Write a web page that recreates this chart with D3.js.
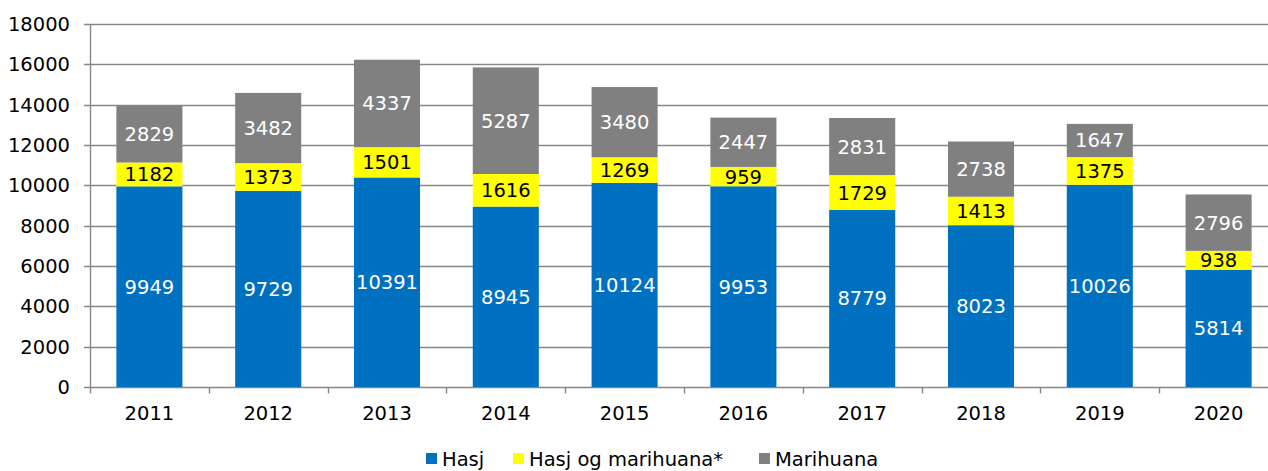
<!DOCTYPE html>
<html>
<head>
<meta charset="utf-8">
<script src="https://cdn.jsdelivr.net/npm/d3@7"></script>
<style>
  body { margin: 0; background: #fff; overflow: hidden; }
  text { font-family: "DejaVu Sans", Verdana, sans-serif; }
</style>
</head>
<body>
<div id="chart"></div>
<script>
// data
const years = ["2011", "2012", "2013", "2014", "2015", "2016", "2017", "2018", "2019", "2020"];
const hasj = [9949, 9729, 10391, 8945, 10124, 9953, 8779, 8023, 10026, 5814];
const hasjOgMarihuana = [1182, 1373, 1501, 1616, 1269, 959, 1729, 1413, 1375, 938];
const marihuana = [2829, 3482, 4337, 5287, 3480, 2447, 2831, 2738, 1647, 2796];
const seriesNames = ["Hasj", "Hasj og marihuana*", "Marihuana"];
const yTicks = [0, 2000, 4000, 6000, 8000, 10000, 12000, 14000, 16000, 18000];

const width = 1268;
const height = 471;
// plot area runs a little past the right edge of the picture
const margin = { top: 24, right: -10, bottom: 84, left: 90 };

const colors = ["#0070C0", "#FFFF00", "#808080"];
const labelColors = ["#fff", "#000", "#fff"];

const svg = d3.select("#chart")
  .append("svg")
    .attr("width", width)
    .attr("height", height);

const x = d3.scaleBand()
  .domain(years)
  .range([margin.left, width - margin.right])
  .paddingInner(0.444)
  .paddingOuter(0.222);

const y = d3.scaleLinear()
  .domain([0, 18000])
  .range([height - margin.bottom, margin.top]);

// build stacked table
const table = years.map((yr, i) => ({
  year: yr,
  [seriesNames[0]]: hasj[i],
  [seriesNames[1]]: hasjOgMarihuana[i],
  [seriesNames[2]]: marihuana[i]
}));
const stacked = d3.stack().keys(seriesNames)(table);

// gridlines
svg.append("g")
  .selectAll("line")
  .data(yTicks)
  .join("line")
    .attr("x1", margin.left - 6)
    .attr("x2", width)
    .attr("y1", d => Math.round(y(d)) + 0.5)
    .attr("y2", d => Math.round(y(d)) + 0.5)
    .attr("stroke", "#878787")
    .attr("stroke-width", 1.4);

// y labels
svg.append("g")
  .selectAll("text")
  .data(yTicks)
  .join("text")
    .attr("x", margin.left - 20)
    .attr("y", d => y(d))
    .attr("dy", "0.36em")
    .attr("text-anchor", "end")
    .attr("font-size", 19.5)
    .attr("fill", "#000")
    .text(d => d);

// bars
const groups = svg.append("g")
  .selectAll("g")
  .data(stacked)
  .join("g")
    .attr("fill", (d, i) => colors[i]);

groups.selectAll("rect")
  .data(d => d)
  .join("rect")
    .attr("x", d => x(d.data.year))
    .attr("width", x.bandwidth())
    .attr("y", d => y(d[1]))
    .attr("height", d => y(d[0]) - y(d[1]));

// value labels
stacked.forEach((s, si) => {
  svg.append("g")
    .selectAll("text")
    .data(s)
    .join("text")
      .attr("x", d => x(d.data.year) + x.bandwidth() / 2)
      .attr("y", d => (y(d[0]) + y(d[1])) / 2)
      .attr("dy", "0.36em")
      .attr("text-anchor", "middle")
      .attr("font-size", 19.5)
      .attr("fill", labelColors[si])
      .text(d => d[1] - d[0]);
});

// y axis line
const y0 = Math.round(y(0)) + 0.5;
svg.append("line")
  .attr("x1", margin.left + 0.5).attr("x2", margin.left + 0.5)
  .attr("y1", margin.top).attr("y2", y0 + 6)
  .attr("stroke", "#878787").attr("stroke-width", 1.4);

// category ticks between bands
const step = x.step();
svg.append("g")
  .selectAll("line")
  .data(years.slice(1))
  .join("line")
    .attr("x1", d => Math.round(x(d) - step * x.paddingInner() / 2) + 0.5)
    .attr("x2", d => Math.round(x(d) - step * x.paddingInner() / 2) + 0.5)
    .attr("y1", y0)
    .attr("y2", y0 + 6)
    .attr("stroke", "#878787")
    .attr("stroke-width", 1.4);

// x labels
svg.append("g")
  .selectAll("text")
  .data(years)
  .join("text")
    .attr("x", d => x(d) + x.bandwidth() / 2)
    .attr("y", 413)
    .attr("dy", "0.36em")
    .attr("text-anchor", "middle")
    .attr("font-size", 19.5)
    .text(d => d);

// legend
const legendX = [426, 513, 759];
const legend = svg.append("g")
  .selectAll("g")
  .data(seriesNames)
  .join("g")
    .attr("transform", (d, i) => `translate(${legendX[i]}, 453)`);

legend.append("rect")
  .attr("width", 11)
  .attr("height", 11)
  .attr("fill", (d, i) => colors[i]);

legend.append("text")
  .attr("x", 16)
  .attr("y", 6)
  .attr("dy", "0.36em")
  .attr("font-size", 19.5)
  .text(d => d);
</script>
</body>
</html>
